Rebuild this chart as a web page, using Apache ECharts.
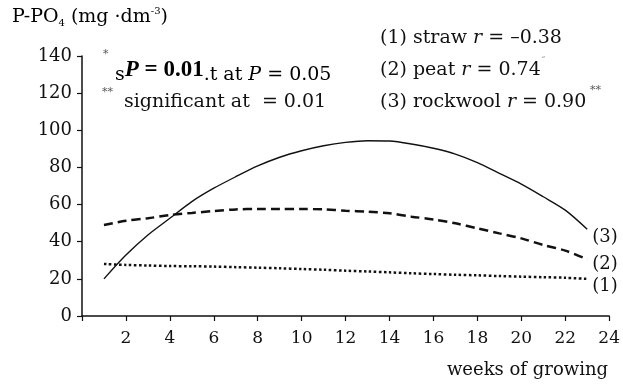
<!DOCTYPE html>
<html>
<head>
<meta charset="utf-8">
<script src="https://cdn.jsdelivr.net/npm/echarts@6/dist/echarts.min.js"></script>
<style>
  html, body { margin: 0; padding: 0; background: #fff; }
  #chart { width: 623px; height: 387px; }
</style>
</head>
<body>
<div id="chart"></div>
<script>
// weeks of growing
var weeks = [1, 2, 3, 4, 5, 6, 7, 8, 9, 10, 11, 12, 13, 14, 15, 16, 17, 18, 19, 20, 21, 22, 23];
// P-PO4 (mg dm-3)
var straw = [28, 27.5, 27.2, 26.9, 26.8, 26.6, 26.3, 26, 25.7, 25.3, 24.9, 24.4, 24, 23.5, 23, 22.6, 22.2, 21.9, 21.5, 21.2, 20.9, 20.6, 20];
var peat = [49, 51.3, 52.6, 54.4, 55.5, 56.5, 57.4, 57.6, 57.6, 57.6, 57.4, 56.7, 56.2, 55.3, 53.5, 52, 49.9, 47.2, 44.5, 41.8, 38.2, 35.2, 30.5];
var rockwool = [20, 32.8, 43.6, 52.6, 61.6, 68.8, 75, 80.8, 85.5, 89, 91.7, 93.5, 94.4, 94.2, 92.6, 90.3, 87.2, 82.6, 76.8, 71, 64.2, 57, 46.7];
var seriesNames = ['(1)', '(2)', '(3)'];
var xTicks = { min: 0, max: 24, step: 2 };
var yTicks = { min: 0, max: 140, step: 20 };

var FONT = 'DejaVu Serif';
var INK = '#111';

function pairs(vals) {
    return weeks.map(function (w, i) { return [w, vals[i]]; });
}

function lineSeries(name, vals, width, dash, labelOffset) {
    return {
        name: name,
        type: 'line',
        data: pairs(vals),
        symbol: 'none',
        smooth: 0.3,
        animation: false,
        lineStyle: { color: INK, width: width, type: dash },
        endLabel: {
            show: true,
            formatter: name,
            distance: 5,
            offset: labelOffset,
            fontFamily: FONT,
            fontSize: 18,
            color: INK
        }
    };
}

var myChart = echarts.init(document.getElementById('chart'));

var option = {
    backgroundColor: '#fff',
    animation: false,
    grid: { left: 82, right: 11, top: 56, bottom: 71 },
    xAxis: {
        type: 'value',
        min: xTicks.min,
        max: xTicks.max,
        interval: xTicks.step,
        splitLine: { show: false },
        axisLine: { lineStyle: { color: INK, width: 1.5 } },
        axisTick: { length: 5, lineStyle: { color: INK, width: 1.2 } },
        axisLabel: {
            margin: 14,
            fontFamily: FONT,
            fontSize: 17,
            color: INK,
            formatter: function (v) { return v === 0 ? '' : v; }
        }
    },
    yAxis: {
        type: 'value',
        min: yTicks.min,
        max: yTicks.max,
        interval: yTicks.step,
        splitLine: { show: false },
        axisLine: { show: true, lineStyle: { color: INK, width: 1.5 } },
        axisTick: { show: true, length: 5, lineStyle: { color: INK, width: 1.2 } },
        axisLabel: { margin: 10, fontFamily: FONT, fontSize: 18, color: INK }
    },
    series: [
        lineSeries(seriesNames[0], straw, 2.5, [2.5, 2.5], [0, 7]),
        lineSeries(seriesNames[1], peat, 2.5, [9, 5], [0, 5]),
        lineSeries(seriesNames[2], rockwool, 1.4, 'solid', [0, 8])
    ],
    graphic: [
        {
            type: 'text', left: 12, top: 6,
            style: {
                text: '{b|P-PO}{sub|4}{b| (mg ·dm}{sup|-3}{b|)}',
                rich: {
                    b: { fontFamily: FONT, fontSize: 19, color: INK, lineHeight: 22 },
                    sub: { fontFamily: FONT, fontSize: 10, color: INK, lineHeight: 10, verticalAlign: 'bottom' },
                    sup: { fontFamily: FONT, fontSize: 10, color: INK, lineHeight: 10, verticalAlign: 'top' }
                }
            }
        },
        // significance notes
        { type: 'text', left: 103, top: 49, style: { text: '*', fontFamily: FONT, fontSize: 11, fill: '#555' } },
        {
            type: 'text', left: 115, top: 59,
            style: {
                text: '{n|s}{bi|P}{bd| = 0.01}{n|.t at }{i|P}{n| = 0.05}',
                rich: {
                    n: { fontFamily: FONT, fontSize: 19, color: INK, lineHeight: 26, verticalAlign: 'bottom' },
                    i: { fontFamily: FONT, fontSize: 19, fontStyle: 'italic', color: INK, lineHeight: 26, verticalAlign: 'bottom' },
                    bi: { fontFamily: 'Liberation Serif', fontSize: 23, fontStyle: 'italic', fontWeight: 'bold', color: INK, lineHeight: 26, verticalAlign: 'top' },
                    bd: { fontFamily: 'Liberation Serif', fontSize: 23, fontWeight: 'bold', color: INK, lineHeight: 26, verticalAlign: 'top' }
                }
            }
        },
        { type: 'text', left: 102, top: 87, style: { text: '**', fontFamily: FONT, fontSize: 11, fill: '#555' } },
        {
            type: 'text', left: 124, top: 93,
            style: { text: 'significant at  = 0.01', fontFamily: FONT, fontSize: 19, fill: INK }
        },
        // correlation legend
        {
            type: 'text', left: 380, top: 29,
            style: {
                text: '(1) straw {i|r} = –0.38',
                fontFamily: FONT, fontSize: 19, fill: INK,
                rich: { i: { fontFamily: FONT, fontSize: 19, fontStyle: 'italic', color: INK } }
            }
        },
        {
            type: 'text', left: 380, top: 61,
            style: {
                text: '(2) peat {i|r} = 0.74',
                fontFamily: FONT, fontSize: 19, fill: INK,
                rich: { i: { fontFamily: FONT, fontSize: 19, fontStyle: 'italic', color: INK } }
            }
        },
        { type: 'text', left: 541, top: 57, style: { text: '˝', fontFamily: FONT, fontSize: 9, fill: '#888' } },
        {
            type: 'text', left: 380, top: 93,
            style: {
                text: '(3) rockwool {i|r} = 0.90',
                fontFamily: FONT, fontSize: 19, fill: INK,
                rich: { i: { fontFamily: FONT, fontSize: 19, fontStyle: 'italic', color: INK } }
            }
        },
        { type: 'text', left: 590, top: 85, style: { text: '**', fontFamily: FONT, fontSize: 11, fill: '#555' } },
        // axis name
        {
            type: 'text', right: 15, top: 361,
            style: { text: 'weeks of growing', fontFamily: FONT, fontSize: 18, fill: INK }
        }
    ]
};

myChart.setOption(option);
window.addEventListener('resize', function () {
    myChart.resize();
});
</script>
</body>
</html>
